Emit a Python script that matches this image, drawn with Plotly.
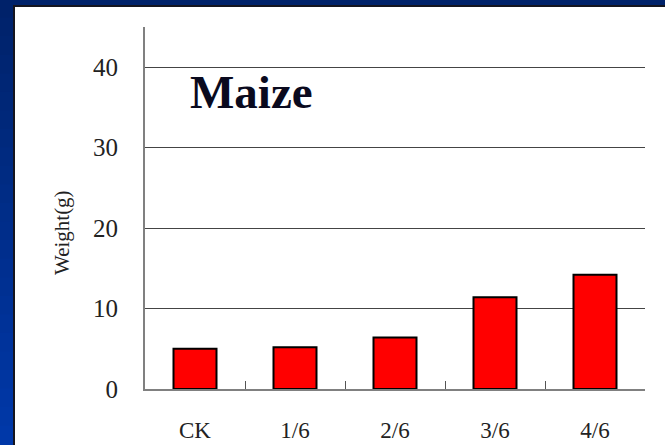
import plotly.graph_objects as go

categories = ["CK", "1/6", "2/6", "3/6", "4/6"]
weights = [5.0, 5.2, 6.4, 11.4, 14.2]
y_ticks = [0, 10, 20, 30, 40]

W, H = 665, 445
L, R, T, B = 145, 20, 27, 56
pw, ph = W - L - R, H - T - B

def px(x):
    return (x - L) / pw

def py(y):
    return (H - B - y) / ph

fig = go.Figure()
fig.add_trace(go.Bar(
    x=categories, y=weights,
    marker=dict(color="#ff0000", line=dict(color="#000000", width=2)),
))

shapes = []
n = 24
c0 = (0x00, 0x22, 0x6a)
c1 = (0x00, 0x38, 0xa8)
for i in range(n):
    t = i / (n - 1)
    col = "rgb(%d,%d,%d)" % tuple(round(a + (b - a) * t) for a, b in zip(c0, c1))
    shapes.append(dict(type="rect", xref="paper", yref="paper", layer="below",
                       x0=px(-5), x1=px(W + 5), y0=py(H * (i + 1) / n + 1), y1=py(H * i / n - 1),
                       fillcolor=col, line=dict(width=0)))
shapes.append(dict(type="rect", xref="paper", yref="paper", layer="below",
                   x0=px(14), x1=px(W + 10), y0=py(H + 10), y1=py(6),
                   fillcolor="white", line=dict(color="#15151f", width=2)))
fig.update_layout(shapes=shapes)

fig.add_annotation(text="<b>Maize</b>", xref="paper", yref="paper",
                   x=px(188), y=py(92), xanchor="left", yanchor="middle", showarrow=False,
                   font=dict(family="Liberation Serif", size=47, color="#0a0a1e"))
fig.add_annotation(text="Weight(g)", xref="paper", yref="paper",
                   x=px(62), y=py(233), xanchor="center", yanchor="middle", showarrow=False,
                   textangle=-90,
                   font=dict(family="Liberation Serif", size=21, color="#222222"))

fig.update_layout(
    template="none",
    width=W, height=H,
    margin=dict(l=L, r=R, t=T, b=B, autoexpand=False),
    paper_bgcolor="#002a80",
    plot_bgcolor="rgba(0,0,0,0)",
    bargap=0.57,
    showlegend=False,
    xaxis=dict(
        automargin=False,
        showline=True, linecolor="#808080", linewidth=2,
        ticks="inside", tickson="boundaries", ticklen=8, tickcolor="#555555", tickwidth=1,
        showgrid=False,
        tickfont=dict(family="Liberation Serif", size=23, color="#222222"),
        ticklabelstandoff=19,
    ),
    yaxis=dict(
        automargin=False,
        range=[0, 45], tickvals=y_ticks,
        showline=True, linecolor="#808080", linewidth=2,
        showgrid=True, gridcolor="#444444", gridwidth=1,
        zeroline=False, ticks="",
        tickfont=dict(family="Liberation Serif", size=25, color="#222222"),
        ticklabelstandoff=20,
    ),
)

fig.write_html("out.html", config={"displayModeBar": False},
               post_script="document.body.style.margin='0';document.body.style.overflow='hidden';")
